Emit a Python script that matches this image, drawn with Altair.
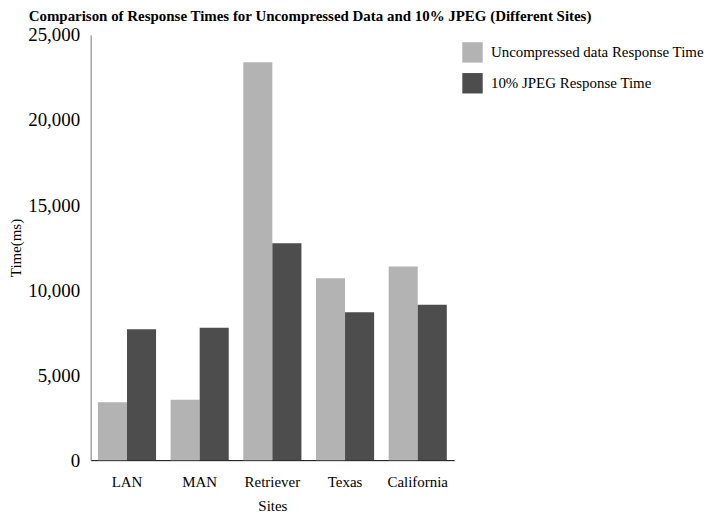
import altair as alt
import pandas as pd

sites = ["LAN", "MAN", "Retriever", "Texas", "California"]
uncompressed = [3400, 3550, 23400, 10700, 11380]
jpeg10 = [7700, 7780, 12760, 8700, 9130]
series_names = ["Uncompressed data Response Time", "10% JPEG Response Time"]
y_ticks = [0, 5000, 10000, 15000, 20000, 25000]

rows = []
for s, u, j in zip(sites, uncompressed, jpeg10):
    rows.append({"Site": s, "Series": series_names[0], "Value": u})
    rows.append({"Site": s, "Series": series_names[1], "Value": j})
df = pd.DataFrame(rows)

FONT = "Liberation Serif"

chart = alt.Chart(df).mark_bar().encode(
    x=alt.X("Site:N", sort=sites,
            scale=alt.Scale(paddingInner=0.2, paddingOuter=0.1),
            axis=alt.Axis(title="Sites", labelAngle=0, ticks=False,
                          labelPadding=14, titlePadding=10,
                          domainColor="#000000", labelFont=FONT, titleFont=FONT,
                          labelFontSize=15, titleFontSize=15,
                          labelColor="#000", titleColor="#000", titleFontWeight="normal")),
    xOffset=alt.XOffset("Series:N", sort=series_names),
    y=alt.Y("Value:Q",
            scale=alt.Scale(domain=[0, 25000], nice=False),
            axis=alt.Axis(title="Time(ms)", values=y_ticks, format=",.0f", grid=False,
                          ticks=False, labelPadding=11, titlePadding=4,
                          domainColor="#777777", labelFont=FONT, titleFont=FONT,
                          labelFontSize=19, titleFontSize=15,
                          labelColor="#000", titleColor="#000", titleFontWeight="normal")),
    color=alt.Color("Series:N", sort=series_names,
                    scale=alt.Scale(domain=series_names, range=["#b3b3b3", "#4d4d4d"]),
                    legend=alt.Legend(title=None, orient="none", legendX=373, legendY=7,
                                      symbolType="square", symbolSize=420,
                                      symbolStrokeWidth=0, labelFont=FONT,
                                      labelFontSize=15, labelColor="#000", labelLimit=400,
                                      rowPadding=10, labelOffset=8, padding=0)),
).properties(
    width=365,
    height=427,
    padding={"left": 0, "top": 0, "right": 0, "bottom": 0},
    title=alt.TitleParams(
        "Comparison of Response Times for Uncompressed Data and 10% JPEG (Different Sites)",
        font=FONT, fontSize=15, fontWeight="bold", color="#000",
        anchor="start", frame="bounds", dx=20, offset=2),
).configure_view(stroke=None)

chart.save("out.html", embed_options={"renderer": "svg", "actions": False})
